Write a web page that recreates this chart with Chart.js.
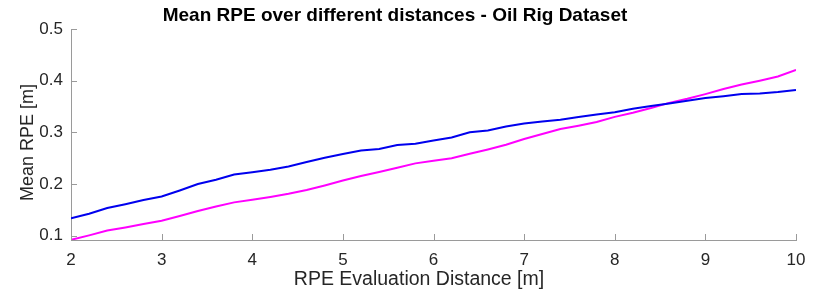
<!DOCTYPE html>
<html>
<head>
<meta charset="utf-8">
<script src="https://cdn.jsdelivr.net/npm/chart.js@4.4.1/dist/chart.umd.min.js"></script>
<style>
  html, body { margin: 0; padding: 0; background: #ffffff; }
  #wrap { width: 830px; height: 290px; }
</style>
</head>
<body>
<div id="wrap"><canvas id="c" width="830" height="290"></canvas></div>
<script>
const distances = [2.0, 2.2, 2.4, 2.6, 2.8, 3.0, 3.2, 3.4, 3.6, 3.8, 4.0, 4.2, 4.4, 4.6, 4.8, 5.0, 5.2, 5.4, 5.6, 5.8, 6.0, 6.2, 6.4, 6.6, 6.8, 7.0, 7.2, 7.4, 7.6, 7.8, 8.0, 8.2, 8.4, 8.6, 8.8, 9.0, 9.2, 9.4, 9.6, 9.8, 10.0];
const blueSeries = [0.1335, 0.1425, 0.1535, 0.161, 0.169, 0.176, 0.1876, 0.200, 0.2083, 0.2186, 0.223, 0.2277, 0.234, 0.2425, 0.251, 0.258, 0.265, 0.268, 0.2754, 0.278, 0.2844, 0.290, 0.300, 0.3037, 0.3114, 0.317, 0.321, 0.3244, 0.3296, 0.3347, 0.339, 0.3456, 0.351, 0.356, 0.361, 0.3663, 0.370, 0.374, 0.375, 0.378, 0.3818];
const magentaSeries = [0.092, 0.1006, 0.110, 0.116, 0.1226, 0.129, 0.138, 0.1478, 0.1567, 0.1645, 0.1696, 0.175, 0.181, 0.1884, 0.1973, 0.207, 0.2155, 0.2232, 0.2315, 0.240, 0.245, 0.250, 0.2586, 0.267, 0.276, 0.287, 0.2967, 0.3064, 0.3128, 0.320, 0.330, 0.338, 0.347, 0.357, 0.365, 0.374, 0.3838, 0.3927, 0.400, 0.408, 0.421];
const xTicks = [2, 3, 4, 5, 6, 7, 8, 9, 10];
const yTicks = [0.1, 0.2, 0.3, 0.4, 0.5];
const titleText = 'Mean RPE over different distances - Oil Rig Dataset';
const xLabel = 'RPE Evaluation Distance [m]';
const yLabel = 'Mean RPE [m]';

const FONT = "'Liberation Sans', Arial, Helvetica, sans-serif";
const AXIS_COLOR = '#9a9a9a';
const TEXT_COLOR = '#262626';

const toPts = (ys) => distances.map((x, i) => ({ x: x, y: ys[i] }));

// Inward tick marks (placed through the scales) and the title / axis labels
const decorations = {
  id: 'decorations',
  afterDatasetsDraw(chart) {
    const { ctx, chartArea, scales } = chart;
    ctx.save();
    ctx.strokeStyle = AXIS_COLOR;
    ctx.lineWidth = 1;
    const len = 6;
    xTicks.forEach(v => {
      const px = Math.round(scales.x.getPixelForValue(v)) + 0.5;
      ctx.beginPath();
      ctx.moveTo(px, chartArea.bottom);
      ctx.lineTo(px, chartArea.bottom - len);
      ctx.stroke();
    });
    yTicks.forEach(v => {
      const py = Math.round(scales.y.getPixelForValue(v)) + 0.5;
      ctx.beginPath();
      ctx.moveTo(chartArea.left, py);
      ctx.lineTo(chartArea.left + len, py);
      ctx.stroke();
    });

    // title
    ctx.fillStyle = '#000000';
    ctx.textAlign = 'center';
    ctx.textBaseline = 'alphabetic';
    ctx.font = 'bold 19px ' + FONT;
    ctx.fillText(titleText, 395, 21);

    // x axis label
    ctx.fillStyle = TEXT_COLOR;
    ctx.font = '19.5px ' + FONT;
    ctx.fillText(xLabel, 419, 284.5);

    // y axis label
    ctx.translate(33, 142.5);
    ctx.rotate(-Math.PI / 2);
    ctx.font = '18px ' + FONT;
    ctx.fillText(yLabel, 0, 0);
    ctx.restore();
  }
};

new Chart(document.getElementById('c'), {
  type: 'line',
  data: {
    datasets: [
      { data: toPts(blueSeries), borderColor: '#0000ee', borderWidth: 2, pointRadius: 0, fill: false, tension: 0 },
      { data: toPts(magentaSeries), borderColor: '#ff00ff', borderWidth: 2, pointRadius: 0, fill: false, tension: 0 }
    ]
  },
  options: {
    responsive: false,
    animation: false,
    devicePixelRatio: 1,
    layout: { padding: { top: 29, right: 34, bottom: 0, left: 0 } },
    plugins: {
      legend: { display: false },
      tooltip: { enabled: false },
      title: { display: false }
    },
    scales: {
      x: {
        type: 'linear',
        min: 2, max: 10,
        afterBuildTicks: (s) => { s.ticks = xTicks.map(v => ({ value: v })); },
        afterFit: (s) => { s.height = 50; },
        ticks: { color: TEXT_COLOR, font: { family: FONT, size: 17 }, padding: 10, maxRotation: 0,
                 callback: (v) => String(v) },
        grid: { display: false, drawTicks: false },
        border: { display: true, color: AXIS_COLOR, width: 1 },
        title: { display: false }
      },
      y: {
        type: 'linear',
        min: 0.0917, max: 0.5,
        afterBuildTicks: (s) => { s.ticks = yTicks.map(v => ({ value: v })); },
        afterFit: (s) => { s.width = 71; },
        ticks: { color: TEXT_COLOR, font: { family: FONT, size: 17 }, padding: 8,
                 callback: (v) => String(v) },
        grid: { display: false, drawTicks: false },
        border: { display: true, color: AXIS_COLOR, width: 1 },
        title: { display: false }
      }
    }
  },
  plugins: [decorations]
});
</script>
</body>
</html>
